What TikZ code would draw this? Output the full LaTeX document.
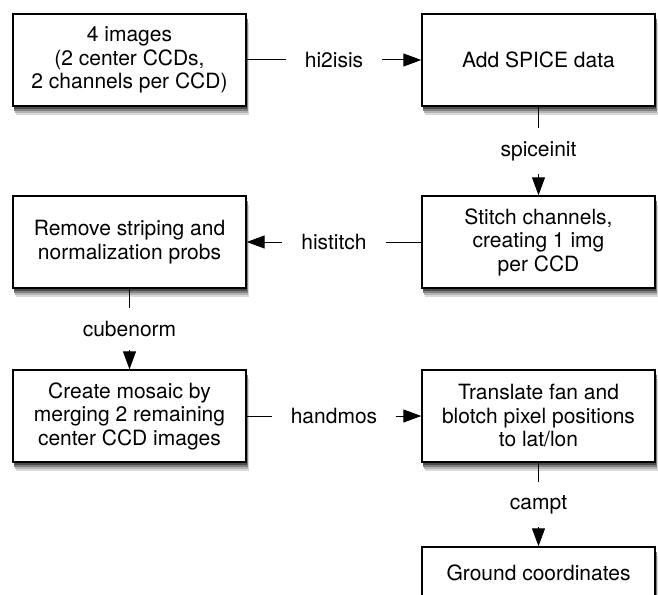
\documentclass[tikz,border=0pt]{standalone}
\usepackage{fontspec}
\setmainfont{TeX Gyre Heros}
\usetikzlibrary{arrows.meta}

\begin{document}
\begin{tikzpicture}[x=1pt, y=1pt,
  step box/.style={draw, line width=1.4pt, fill=white, align=center,
    minimum width=233pt, minimum height=92pt, inner sep=0pt,
    font=\fontsize{21}{23.5}\selectfont},
  shade band/.style={draw=none},
  flow/.style={line width=1pt, -{Triangle[length=18pt,width=13pt]}},
  tool/.style={fill=white, inner xsep=19pt, inner ysep=13pt,
    font=\fontsize{21}{23.5}\selectfont}]

% ---------------------------
% Page frame and column centres
% ---------------------------
\path[use as bounding box] (0,0) rectangle (658,-594);
\def\colL{129.5}
\def\colR{538.5}

% soft drop shadow under every box (centre x / centre y / half height)
\foreach \cx/\cy/\hh in {129.5/-60/46, 538.5/-60/46, 538.5/-242/46, 129.5/-242/46,
                         129.5/-416/46, 538.5/-416/46, 538.5/-573/26} {
  \fill[shade band, black!15] (\cx-114, \cy-\hh-9) rectangle (\cx+119, \cy+\hh-9);
  \fill[shade band, black!30] (\cx-115, \cy-\hh-7) rectangle (\cx+118.5, \cy+\hh-7);
  \fill[shade band, black!50] (\cx-115.5, \cy-\hh-5) rectangle (\cx+118, \cy+\hh-5);
  \fill[shade band, black!70] (\cx-116, \cy-\hh-3) rectangle (\cx+117.5, \cy+\hh-3);
}

% ---------------------------
% Processing steps
% ---------------------------
\node[step box] (raw)    at (\colL,-60)  {4 images\\(2 center CCDs,\\2 channels per CCD)};
\node[step box] (spice)  at (\colR,-60)  {Add SPICE data};
\node[step box] (stitch) at (\colR,-242) {Stitch channels,\\creating 1 img\\per CCD};
\node[step box] (norm)   at (\colL,-242) {Remove striping and\\normalization probs};
\node[step box] (mosaic) at (\colL,-416) {Create mosaic by\\merging 2 remaining\\center CCD images};
\node[step box] (latlon) at (\colR,-416) {Translate fan and\\blotch pixel positions\\to lat/lon};
\node[step box, minimum height=52pt] (ground) at (\colR,-573) {Ground coordinates};

% ---------------------------
% ISIS tools between the steps
% ---------------------------
\draw[flow] (raw)    -- node[tool] {hi2isis}   (spice);
\draw[flow] (spice)  -- node[tool] {spiceinit} (stitch);
\draw[flow] (stitch) -- node[tool] {histitch}  (norm);
\draw[flow] (norm)   -- node[tool] {cubenorm}  (mosaic);
\draw[flow] (mosaic) -- node[tool] {handmos}   (latlon);
\draw[flow] (latlon) -- node[tool] {campt}     (ground);

\end{tikzpicture}
\end{document}
